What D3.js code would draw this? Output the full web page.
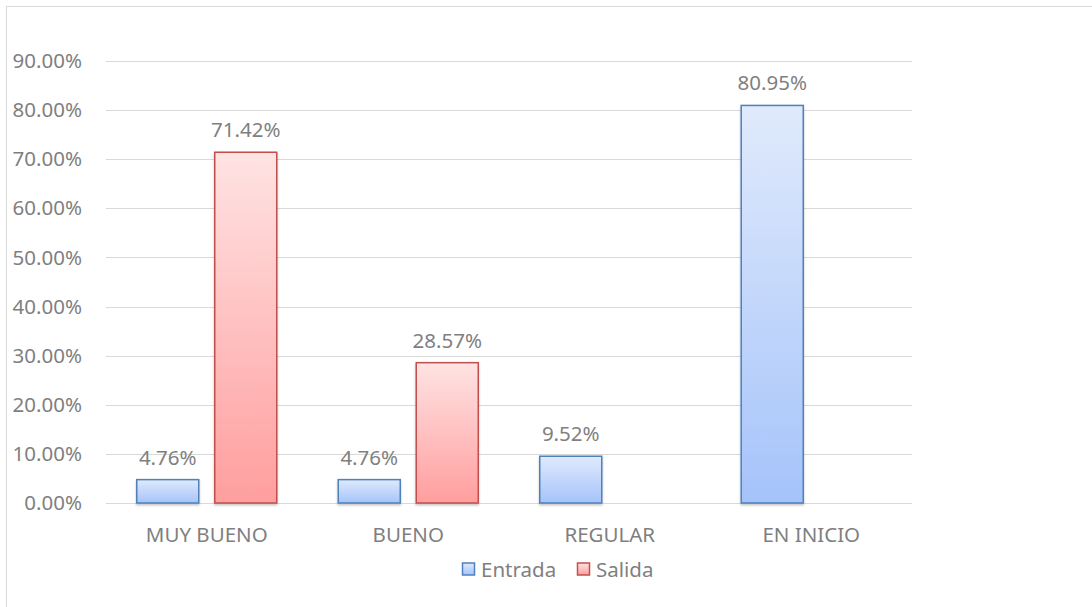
<!DOCTYPE html>
<html lang="es">
<head>
<meta charset="UTF-8">
<title>Entrada / Salida</title>
<script src="https://cdnjs.cloudflare.com/ajax/libs/d3/7.8.5/d3.min.js"></script>
<style>
  body { margin: 0; background: #fff; }
  svg text { font-family: "Noto Sans", "Open Sans", sans-serif; fill: #7f7f7f; }
</style>
</head>
<body>
<svg id="chart" width="1092" height="607"></svg>
<script>
// data
const categories = ['MUY BUENO', 'BUENO', 'REGULAR', 'EN INICIO'];
const seriesNames = ['Entrada', 'Salida'];
const entrada = [4.76, 4.76, 9.52, 80.95];
const salida = [71.42, 28.57, 0, 0];
const yTicks = [0, 10, 20, 30, 40, 50, 60, 70, 80, 90];

const W = 1092, H = 607;
const m = { left: 106, right: 180, top: 61, bottom: 104 };
const fontSize = 20.5;
const svg = d3.select('#chart');

const colors = {
  Entrada: { top: '#e0eafc', bottom: '#a5c3fa', stroke: '#4f81bd' },
  Salida: { top: '#ffe3e3', bottom: '#ff9e9e', stroke: '#c0504d' }
};

// gradients
const defs = svg.append('defs');
seriesNames.forEach(s => {
  const g = defs.append('linearGradient')
    .attr('id', 'grad-' + s)
    .attr('x1', 0).attr('y1', 0).attr('x2', 0).attr('y2', 1);
  g.append('stop').attr('offset', '0%').attr('stop-color', colors[s].top);
  g.append('stop').attr('offset', '100%').attr('stop-color', colors[s].bottom);
});
const shadow = defs.append('filter').attr('id', 'shadow')
  .attr('x', '-20%').attr('y', '-20%').attr('width', '140%').attr('height', '140%');
shadow.append('feDropShadow')
  .attr('dx', 0).attr('dy', 1.5).attr('stdDeviation', 1.2)
  .attr('flood-color', '#000').attr('flood-opacity', 0.25);

// chart border
svg.append('rect')
  .attr('x', 6.5).attr('y', 6.5)
  .attr('width', W + 20).attr('height', H + 20)
  .attr('fill', 'none').attr('stroke', '#d9d9d9');

const x0 = d3.scaleBand().domain(categories).range([m.left, W - m.right]);
const groupW = 141;
const x1 = d3.scaleBand().domain(seriesNames)
  .range([(x0.bandwidth() - groupW) / 2, (x0.bandwidth() + groupW) / 2])
  .paddingInner(15 / 78);
const y = d3.scaleLinear().domain([0, 90]).range([H - m.bottom, m.top]);

// gridlines
svg.append('g')
  .selectAll('line')
  .data(yTicks)
  .join('line')
  .attr('x1', m.left).attr('x2', W - m.right)
  .attr('y1', d => Math.round(y(d)) + 0.5).attr('y2', d => Math.round(y(d)) + 0.5)
  .attr('stroke', '#d9d9d9').attr('stroke-width', 1.2);

// y axis labels
const yAxis = svg.append('g')
  .attr('transform', `translate(${m.left - 24},0)`)
  .call(d3.axisLeft(y).tickValues(yTicks).tickSize(0).tickPadding(0)
    .tickFormat(d => d.toFixed(2) + '%'));
yAxis.select('.domain').remove();
yAxis.selectAll('text').attr('font-size', fontSize).attr('fill', '#7f7f7f')
  .style('font-family', '"Noto Sans", sans-serif');

// bars
const rows = categories.map((c, i) => ({ cat: c, values: [
  { s: 'Entrada', v: entrada[i] }, { s: 'Salida', v: salida[i] }
] }));

const groups = svg.append('g').selectAll('g')
  .data(rows).join('g')
  .attr('transform', d => `translate(${x0(d.cat)},0)`);

groups.selectAll('rect')
  .data(d => d.values.filter(v => v.v > 0))
  .join('rect')
  .attr('x', d => x1(d.s) + 0.5)
  .attr('y', d => y(d.v))
  .attr('width', x1.bandwidth() - 1)
  .attr('height', d => y(0) - y(d.v))
  .attr('fill', d => `url(#grad-${d.s})`)
  .attr('stroke', d => colors[d.s].stroke)
  .attr('stroke-width', 1.5)
  .attr('filter', 'url(#shadow)');

groups.selectAll('text.val')
  .data(d => d.values.filter(v => v.v > 0))
  .join('text')
  .attr('class', 'val')
  .attr('x', d => x1(d.s) + x1.bandwidth() / 2)
  .attr('y', d => y(d.v) - 15)
  .attr('text-anchor', 'middle')
  .attr('font-size', fontSize)
  .text(d => d.v.toFixed(2) + '%');

// category labels
svg.append('g').selectAll('text')
  .data(categories).join('text')
  .attr('x', d => x0(d) + x0.bandwidth() / 2)
  .attr('y', H - m.bottom + 39)
  .attr('text-anchor', 'middle')
  .attr('font-size', fontSize)
  .text(d => d);

// legend
const legend = svg.append('g').attr('transform', 'translate(462,569)');
const legendX = d3.scaleOrdinal().domain(seriesNames).range([0, 115]);
const li = legend.selectAll('g').data(seriesNames).join('g')
  .attr('transform', d => `translate(${legendX(d)},0)`);
li.append('rect')
  .attr('x', 0.5).attr('y', -6).attr('width', 12).attr('height', 12)
  .attr('fill', d => `url(#grad-${d})`)
  .attr('stroke', d => colors[d].stroke).attr('stroke-width', 1.5);
li.append('text')
  .attr('x', 19).attr('y', 8)
  .attr('font-size', fontSize)
  .text(d => d);
</script>
</body>
</html>
